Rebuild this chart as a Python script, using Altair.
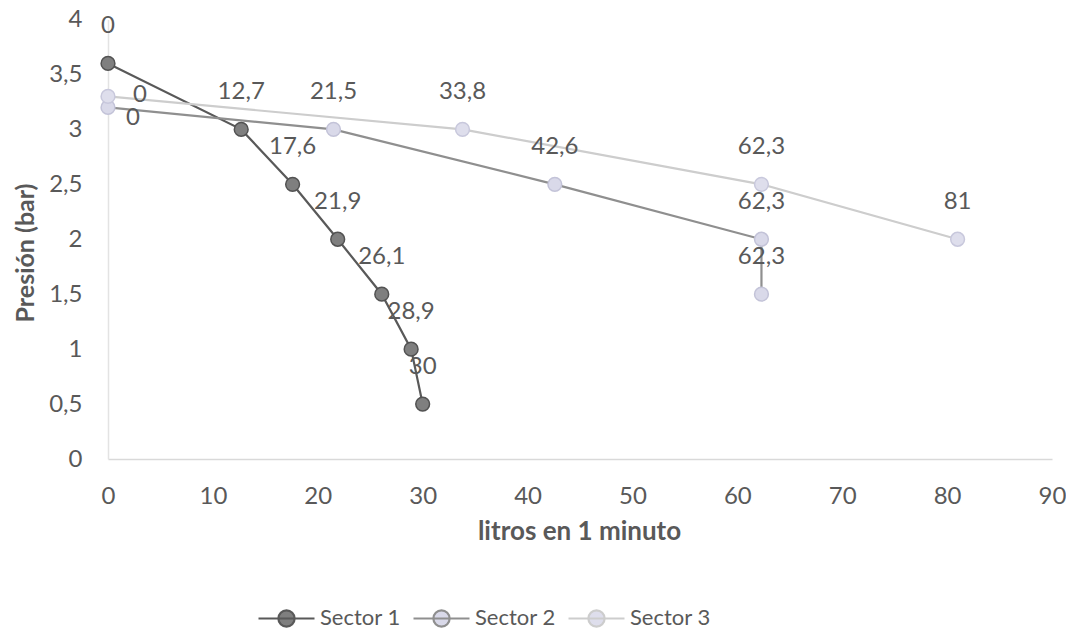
import altair as alt
import pandas as pd

# ---- data ----
s1_x = [0, 12.7, 17.6, 21.9, 26.1, 28.9, 30]
s1_y = [3.6, 3.0, 2.5, 2.0, 1.5, 1.0, 0.5]
s2_x = [0, 21.5, 42.6, 62.3, 62.3]
s2_y = [3.2, 3.0, 2.5, 2.0, 1.5]
s3_x = [0, 33.8, 62.3, 81]
s3_y = [3.3, 3.0, 2.5, 2.0]
series = ["Sector 1", "Sector 2", "Sector 3"]
x_ticks = [0, 10, 20, 30, 40, 50, 60, 70, 80, 90]
y_ticks = [0, 0.5, 1, 1.5, 2, 2.5, 3, 3.5, 4]

rows = []
for name, xs, ys in zip(series, [s1_x, s2_x, s3_x], [s1_y, s2_y, s3_y]):
    for i, (xv, yv) in enumerate(zip(xs, ys)):
        rows.append({"sector": name, "idx": i, "x": xv, "y": yv,
                     "label": f"{xv:g}".replace(".", ",")})
df = pd.DataFrame(rows)

FONT = "Lato"
TXT = "#595959"

line_colors = ["#595959", "#8f8f8f", "#cdcdcd"]
fill_colors = ["#7f7f7f", "#d9d9e9", "#dedeec"]
stroke_colors = ["#525252", "#c3c3d8", "#c8c8dc"]

x_enc = alt.X("x:Q", scale=alt.Scale(domain=[0, 90], nice=False),
              axis=alt.Axis(values=x_ticks, title="litros en 1 minuto",
                            grid=False, ticks=False, tickSize=0, labelFlush=False,
                            domainColor="#d9d9d9", domainWidth=1.5,
                            labelFont=FONT, labelFontSize=24, labelColor=TXT,
                            labelPadding=37, labelBaseline="middle",
                            titleFont=FONT, titleFontSize=26, titleFontWeight="bold",
                            titleColor=TXT, titleX=471, titleY=72,
                            titleBaseline="middle", titleAnchor="middle"))
y_enc = alt.Y("y:Q", scale=alt.Scale(domain=[0, 4], nice=False),
              axis=alt.Axis(values=y_ticks, title="Presión (bar)", format="~g",
                            labelExpr="replace(datum.label, '.', ',')",
                            grid=False, ticks=False, tickSize=0, labelFlush=False,
                            domainColor="#e3e3e3", domainWidth=1.5,
                            labelFont=FONT, labelFontSize=24, labelColor=TXT,
                            labelPadding=26,
                            titleFont=FONT, titleFontSize=25, titleFontWeight="bold",
                            titleColor=TXT, titleX=-83, titleY=233,
                            titleBaseline="middle", titleAngle=270))

sym_path = ("M-1,0L1,0M-0.29,0a0.29,0.29 0 1,0 0.58,0"
            "a0.29,0.29 0 1,0 -0.58,0Z")

base = alt.Chart(df)

lines = base.mark_line(strokeWidth=2.2).encode(
    x=x_enc, y=y_enc,
    color=alt.Color("sector:N", scale=alt.Scale(domain=series, range=line_colors),
                    legend=alt.Legend(title=None, orient="none", direction="horizontal",
                                      legendX=149, legendY=569,
                                      symbolType=sym_path, symbolSize=3136,
                                      symbolStrokeWidth=2.2, symbolOpacity=1,
                                      labelFont=FONT, labelFontSize=22, labelColor=TXT,
                                      labelOffset=4, columnPadding=8)),
    order="idx:Q",
    detail="sector:N",
)

points = base.mark_point(filled=True, size=190, strokeWidth=1.5, opacity=1).encode(
    x="x:Q", y="y:Q",
    fill=alt.Fill("sector:N", scale=alt.Scale(domain=series, range=fill_colors)),
    stroke=alt.Stroke("sector:N", scale=alt.Scale(domain=series, range=stroke_colors),
                      legend=None),
)

labels_main = base.transform_filter(
    "datum.x != 0 || datum.sector == 'Sector 1'"
).mark_text(font=FONT, fontSize=24, color=TXT, dy=-37, baseline="middle",
            align="center").encode(x="x:Q", y="y:Q", text="label:N")

labels_zero3 = base.transform_filter(
    "datum.x == 0 && datum.sector == 'Sector 3'"
).mark_text(font=FONT, fontSize=24, color=TXT, dx=32, dy=-1, baseline="middle",
            align="center").encode(x="x:Q", y="y:Q", text="label:N")

labels_zero2 = base.transform_filter(
    "datum.x == 0 && datum.sector == 'Sector 2'"
).mark_text(font=FONT, fontSize=24, color=TXT, dx=25, dy=11, baseline="middle",
            align="center").encode(x="x:Q", y="y:Q", text="label:N")

chart = alt.layer(lines, points, labels_main, labels_zero3, labels_zero2).properties(
    width=944, height=439.5,
    background="white",
    autosize=alt.AutoSizeParams(type="none"),
    padding={"left": 100, "top": 11.5, "right": 14, "bottom": 173},
).configure_view(stroke=None)

chart.save("out.html", embed_options={"renderer": "svg", "actions": False})
